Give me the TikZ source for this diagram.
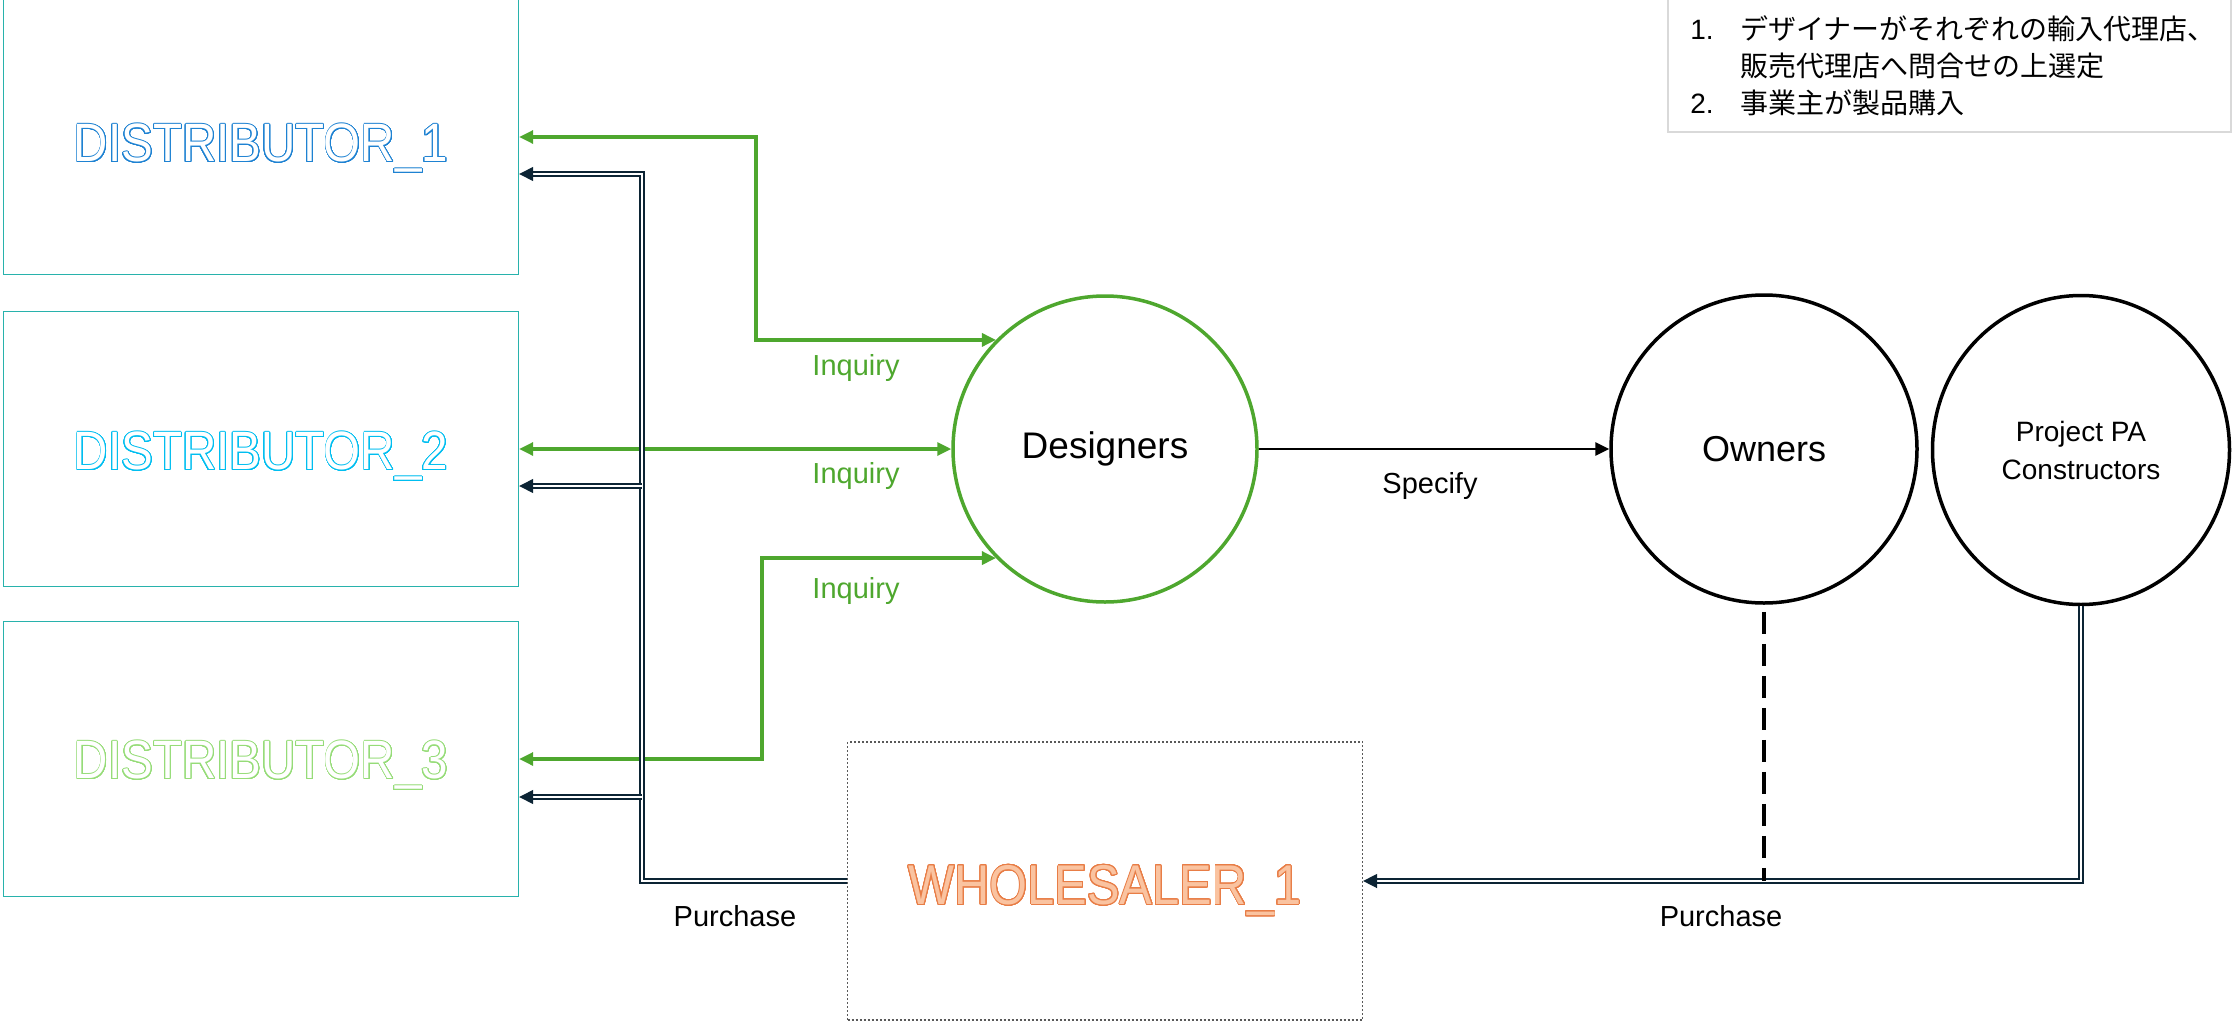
\documentclass[tikz,border=0pt]{standalone}
\usepackage{fontspec}
\usepackage{graphicx}
\usepackage{contour}
\setmainfont{Liberation Sans}
\newfontfamily\jpfont{Noto Sans CJK JP}
\usetikzlibrary{arrows.meta,shapes.geometric}

\definecolor{boxteal}{RGB}{40,178,172}
\definecolor{inqgreen}{RGB}{78,167,46}
\definecolor{distblue}{RGB}{30,130,210}
\definecolor{distcyan}{RGB}{0,190,240}
\definecolor{distgreen}{RGB}{150,220,120}
\definecolor{wsorange}{RGB}{232,125,70}
\definecolor{wsfill}{RGB}{250,195,160}
\definecolor{buynavy}{RGB}{12,36,52}
\definecolor{notegray}{RGB}{217,217,217}

\contourlength{0.5pt}
\contournumber{32}
\newcommand{\hollow}[3]{\raisebox{#3}[\height][\depth]{\scalebox{0.88}[1]{\contour{#1}{\textcolor{white}{#2}}}}}

\tikzset{
  distbox/.style={draw=boxteal,line width=0.7pt,minimum width=257.5pt,minimum height=137.5pt,
    inner sep=0pt,font=\fontsize{27}{30}\selectfont},
  party/.style={ellipse,draw,line width=1.75pt,inner sep=0pt},
  inq/.style={inqgreen,line width=1.6pt,
    {Triangle[length=7pt,width=6.5pt]}-{Triangle[length=7pt,width=6.5pt]}},
  buy/.style={buynavy,line width=0.7pt,double=white,double distance=1.2pt,
    -{Triangle[length=7pt,width=7pt]}},
  lbl/.style={font=\fontsize{14.5}{17}\selectfont}
}

\begin{document}
\begin{tikzpicture}[x=0.5pt,y=-0.5pt]
\useasboundingbox (0,0) rectangle (2234,1023);

% distributors
\node[distbox] (d1) at (261,137) {\hollow{distblue}{DISTRIBUTOR\_1}{-6pt}};
\node[distbox] (d2) at (261,449) {\hollow{distcyan}{DISTRIBUTOR\_2}{-4pt}};
\node[distbox] (d3) at (261,759) {\hollow{distgreen}{DISTRIBUTOR\_3}{-3.5pt}};

% parties
\node[party,draw=inqgreen,minimum width=152pt,minimum height=153pt,
  font=\fontsize{18.5}{22}\selectfont] (des) at (1105,449) {Designers};
\node[party,minimum width=153pt,minimum height=154pt,
  font=\fontsize{18}{22}\selectfont] (own) at (1764,449) {Owners};
\node[party,minimum width=148.5pt,minimum height=154.5pt,align=center,
  font=\fontsize{14}{19}\selectfont] (pa) at (2081,450) {Project PA\\Constructors};

% wholesaler
\node[draw=black!65,line width=0.6pt,dash pattern=on 1pt off 1pt,minimum width=257.5pt,
  minimum height=139pt,inner sep=0pt,font=\fontsize{28}{30}\selectfont] (ws) at (1105,881)
  {\raisebox{-5pt}[\height][\depth]{\scalebox{0.87}[1]{\contour{wsorange}{\textcolor{wsfill}{WHOLESALER\_1}}}}};

% note
\node[draw=notegray,line width=1pt,minimum width=281.5pt,minimum height=72pt,inner sep=0pt] (note) at (1949.5,60) {};
\node[anchor=west,align=left,inner sep=0pt,font=\fontsize{14}{18.5}\selectfont] (notetxt) at (1690,66)
  {\makebox[25pt][l]{1.}{\jpfont デザイナーがそれぞれの輸入代理店、}\\
   \hspace*{25pt}{\jpfont 販売代理店へ問合せの上選定}\\
   \makebox[25pt][l]{2.}{\jpfont 事業主が製品購入}};

% inquiries
\draw[inq] (d1.east) -| ([xshift=-120pt]des.135) -- (des.135);
\draw[inq] (d2.east) -- (des.west);
\draw[inq] (d3.east) -| ([xshift=-117pt]des.225) -- (des.225);
\node[lbl,text=inqgreen] (inq1) at (856,368) {Inquiry};
\node[lbl,text=inqgreen] (inq2) at (856,476) {Inquiry};
\node[lbl,text=inqgreen] (inq3) at (856,591) {Inquiry};

% specify
\draw[line width=1.4pt,-{Triangle[length=7pt,width=6.5pt]}] (des.east) -- (own.west);
\node[lbl] (spec) at (1430,486) {Specify};

% purchases
\coordinate (tk) at ([xshift=-102.5pt]ws.west);
\coordinate (p1) at ([yshift=-18.5pt]d1.east);
\coordinate (p2) at ([yshift=-18.5pt]d2.east);
\coordinate (p3) at ([yshift=-19pt]d3.east);
\draw[buy] (ws.west) -- (tk) |- (p1);
\draw[buy] (tk |- p2) -- (p2);
\draw[buy] (tk |- p3) -- (p3);
\draw[buy] (pa.south) |- (ws.east);
\draw[line width=2pt,dash pattern=on 11pt off 5pt,shorten <=3.5pt] (own.south) -- (own.south |- ws.east);
\node[lbl] (buy1) at (735,916) {Purchase};
\node[lbl] (buy2) at (1721,916) {Purchase};
\end{tikzpicture}
\end{document}
